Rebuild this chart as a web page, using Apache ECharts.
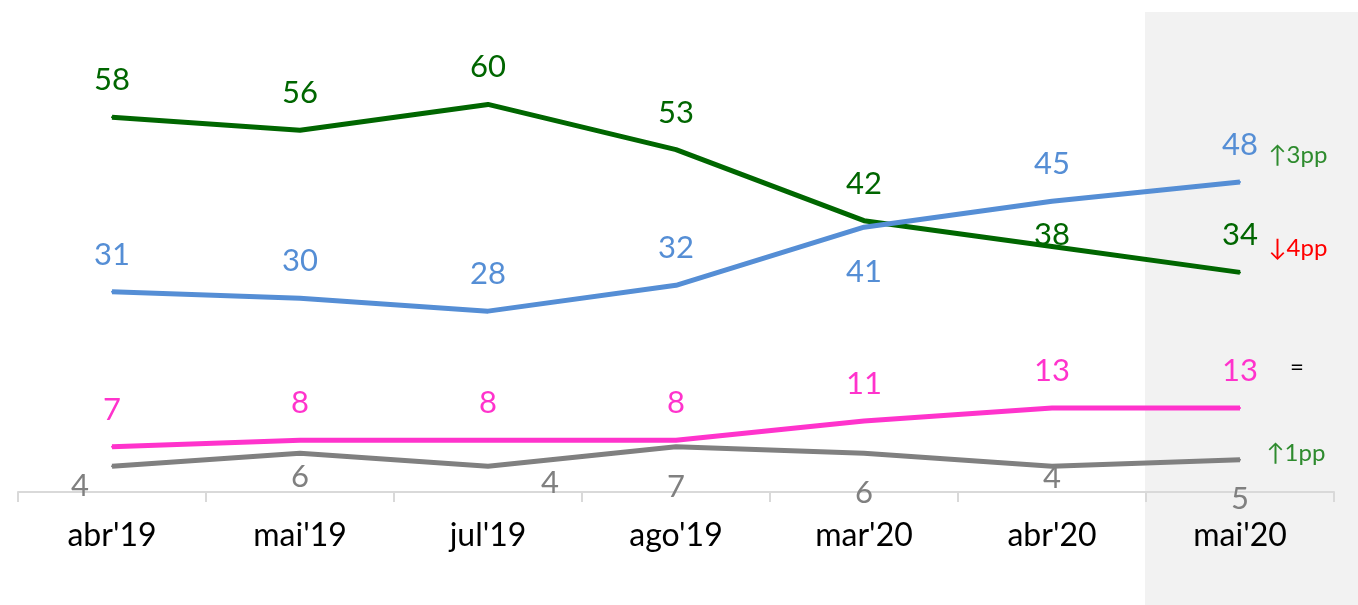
<!DOCTYPE html>
<html lang="pt">
<head>
  <meta charset="UTF-8">
  <script src="https://cdn.jsdelivr.net/npm/echarts@6/dist/echarts.min.js"></script>
  <title>Avaliação</title>
  <style>
    * {margin: 0; padding: 0;}
    html, body {width: 100%; height: 100%; overflow: hidden; background: #fff;}
    #chart {width: 1358px; height: 605px;}
  </style>
</head>
<body>
  <div id="chart"></div>
<script>
var categories = ["abr'19", "mai'19", "jul'19", "ago'19", "mar'20", "abr'20", "mai'20"]
var verde = [58, 56, 60, 53, 42, 38, 34]
var azul = [31, 30, 28, 32, 41, 45, 48]
var rosa = [7, 8, 8, 8, 11, 13, 13]
var cinza = [4, 6, 4, 7, 6, 4, 5]
var variacoes = ['↓4pp', '↑3pp', '=', '↑1pp']

var FONT = 'Lato, "Noto Sans", sans-serif'

// label tweaks per point (offset in px), kept apart from the values
var verdeOffsets = [null, null, null, null, null, [0, 25], null]
var azulBelow = [false, false, false, false, true, false, false]
var cinzaOffsets = [[-32, -2], [0, 2], [62, -5], [0, 18], [0, 18], [0, -10], [0, 17]]

function lineSeries (name, values, color, itemLabel, note) {
  return {
    name: name,
    type: 'line',
    symbol: 'circle',
    symbolSize: 2,
    lineStyle: {color: color, width: 5},
    itemStyle: {color: color},
    label: {
      show: true,
      position: 'top',
      distance: 20,
      color: color,
      fontFamily: FONT,
      fontSize: 31,
      lineHeight: 32
    },
    data: values.map(function (v, i) {
      var item = {value: v}
      var l = itemLabel(i)
      if (l) item.label = l
      return item
    }),
    markPoint: {
      symbol: 'circle',
      symbolSize: 0,
      silent: true,
      data: [{
        coord: [categories.length - 1, values[values.length - 1]],
        label: {
          show: true,
          position: 'inside',
          offset: note.offset,
          formatter: note.text,
          color: note.color,
          fontFamily: FONT,
          fontSize: 24
        }
      }]
    }
  }
}

var option = {
  animation: false,
  graphic: [{
    type: 'rect',
    z: -10,
    shape: {x: 1145, y: 12, width: 213, height: 593},
    style: {fill: '#f2f2f2'}
  }],
  grid: {left: 18, right: 24, top: 14, bottom: 113},
  xAxis: {
    type: 'category',
    data: categories,
    boundaryGap: true,
    axisLine: {lineStyle: {color: '#d9d9d9', width: 2}},
    axisTick: {show: true, length: 10, lineStyle: {color: '#d9d9d9', width: 2}},
    axisLabel: {color: '#000', fontFamily: FONT, fontSize: 32, lineHeight: 32, margin: 28}
  },
  yAxis: {
    type: 'value',
    min: 0,
    max: 74,
    show: false,
    splitLine: {show: false}
  },
  series: [
    lineSeries('verde', verde, '#006600', function (i) {
      return verdeOffsets[i] ? {offset: verdeOffsets[i]} : null
    }, {text: variacoes[0], color: '#ff0000', offset: [58, -24]}),
    lineSeries('azul', azul, '#558ed5', function (i) {
      return azulBelow[i] ? {position: 'bottom', distance: 28} : null
    }, {text: variacoes[1], color: '#2e8b2e', offset: [58, -27]}),
    lineSeries('rosa', rosa, '#ff33cc', function () {
      return null
    }, {text: variacoes[2], color: '#000', offset: [57, -41]}),
    lineSeries('cinza', cinza, '#808080', function (i) {
      return {position: 'bottom', distance: 5, offset: cinzaOffsets[i]}
    }, {text: variacoes[3], color: '#2e8b2e', offset: [56, -6]})
  ]
}

var chart = echarts.init(document.getElementById('chart'))
chart.setOption(option)
</script>
</body>
</html>
